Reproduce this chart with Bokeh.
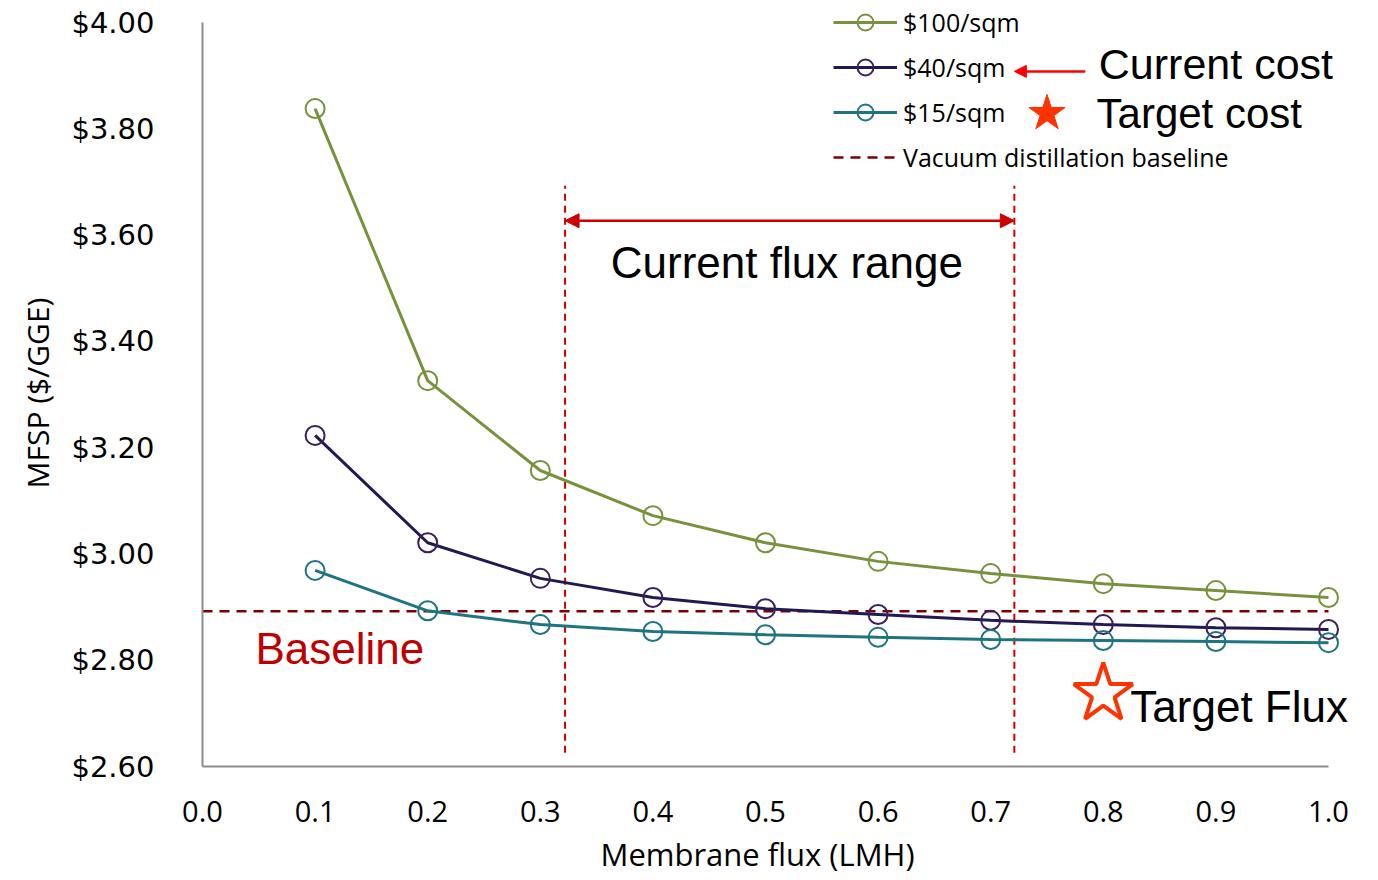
from bokeh.plotting import figure
from bokeh.models import (Range1d, Legend, LegendItem, Arrow, NormalHead, Label, Title,
                          PrintfTickFormatter, FixedTicker)
from bokeh.embed import file_html
from bokeh.resources import INLINE

flux = [0.1, 0.2, 0.3, 0.4, 0.5, 0.6, 0.7, 0.8, 0.9, 1.0]
cost_100 = [3.838, 3.326, 3.157, 3.072, 3.021, 2.986, 2.963, 2.944, 2.931, 2.918]
cost_40 = [3.223, 3.021, 2.954, 2.918, 2.897, 2.886, 2.875, 2.867, 2.861, 2.858]
cost_15 = [2.969, 2.893, 2.867, 2.854, 2.848, 2.843, 2.839, 2.837, 2.835, 2.833]
baseline = 2.892
series_labels = ["$100/sqm", "$40/sqm", "$15/sqm"]
baseline_label = "Vacuum distillation baseline"
flux_range = [0.322, 0.721]
target_flux = 0.8
target_flux_y = 2.737
x_ticks = [0.0, 0.1, 0.2, 0.3, 0.4, 0.5, 0.6, 0.7, 0.8, 0.9, 1.0]
y_ticks = [2.6, 2.8, 3.0, 3.2, 3.4, 3.6, 3.8, 4.0]

C100 = "#76923C"
C40 = "#201A50"
C40M = "#3B1F5E"
C15 = "#1E7480"
CBASE = "#7B0000"
CRED = "#CC0000"
CSTAR = "#FF3300"

# frame extends to the canvas top/right so annotations are not clipped;
# axes are bounded to the data extent
p = figure(width=1378, height=880, output_backend="svg", toolbar_location=None,
           x_range=Range1d(0, 1.0444), y_range=Range1d(2.6, 4.0414),
           min_border_left=202, min_border_right=0, min_border_top=0, min_border_bottom=114)
p.outline_line_color = None
p.xgrid.visible = False
p.ygrid.visible = False
p.background_fill_color = "white"

# axes
p.xaxis.bounds = (0.0, 1.0)
p.yaxis.bounds = (2.6, 4.0)
p.xaxis.ticker = FixedTicker(ticks=x_ticks)
p.yaxis.ticker = FixedTicker(ticks=y_ticks)
p.xaxis.formatter = PrintfTickFormatter(format="%.1f")
p.yaxis.formatter = PrintfTickFormatter(format="$%.2f")
for ax in (p.xaxis, p.yaxis):
    ax.axis_line_color = "#8C8C8C"
    ax.axis_line_width = 2
    ax.major_tick_line_color = None
    ax.minor_tick_line_color = None
    ax.major_label_text_color = "black"
p.yaxis.major_label_text_font = "DejaVu Sans"
p.yaxis.major_label_text_font_size = "29px"
p.yaxis.major_label_standoff = 42
p.xaxis.major_label_text_font = "Open Sans"
p.xaxis.major_label_text_font_size = "29px"
p.xaxis.major_label_standoff = 28

# axis titles placed as side titles so they centre on the data extent
p.add_layout(Title(text="Membrane flux (LMH)", align="left", offset=398, text_font="Open Sans",
                   text_font_size="31px", text_font_style="normal", text_color="black",
                   standoff=12), "below")
p.add_layout(Title(text="MFSP ($/GGE)", align="left", offset=278, text_font="Open Sans",
                   text_font_size="30px", text_font_style="normal", text_color="black",
                   standoff=22), "left")

# baseline
bl = p.line([0.0, 1.0], [baseline, baseline], line_color=CBASE, line_width=2.5, line_dash="10 7")

# flux range lines
for fx in flux_range:
    p.segment(x0=[fx], y0=[2.626], x1=[fx], y1=[3.693], line_color=CRED, line_width=2, line_dash="7 5")
p.add_layout(Arrow(x_start=flux_range[0], y_start=3.627, x_end=flux_range[1], y_end=3.627,
                   line_color=CRED, line_width=2.5,
                   start=NormalHead(size=14, fill_color=CRED, line_color=CRED),
                   end=NormalHead(size=14, fill_color=CRED, line_color=CRED)))

# series
items = []
for vals, col, mcol, lab in [(cost_100, C100, C100, series_labels[0]),
                             (cost_40, C40, C40M, series_labels[1]),
                             (cost_15, C15, C15, series_labels[2])]:
    ln = p.line(flux, vals, line_color=col, line_width=3)
    sc = p.scatter(flux, vals, marker="circle", size=19, line_color=mcol, line_width=2,
                   fill_color="white", fill_alpha=0.0)
    items.append(LegendItem(label=lab, renderers=[ln, sc]))
items.append(LegendItem(label=baseline_label, renderers=[bl]))

legend = Legend(items=items, location=(631, 589), orientation="vertical",
                border_line_alpha=0, background_fill_alpha=0, padding=0, margin=0,
                spacing=5, label_height=20, glyph_height=40, glyph_width=64,
                label_standoff=6, label_text_font="Open Sans", label_text_font_size="25px",
                label_text_color="black")
p.add_layout(legend, "center")

# target flux star
p.scatter([target_flux], [target_flux_y], marker="star", size=62, line_color=CSTAR, line_width=4,
          fill_color="white")

# current cost arrow and target cost star
p.add_layout(Arrow(x_start=0.784, y_start=3.908, x_end=0.721, y_end=3.908,
                   line_color="#FF0000", line_width=2.5,
                   end=NormalHead(size=12, fill_color="#FF0000", line_color="#FF0000")))
p.scatter([0.750], [3.829], marker="star", size=38, line_color=CSTAR, fill_color=CSTAR)

# text labels
labels = [
    (0.519, 3.548, "Current flux range", "44px", "black", "center"),
    (0.047, 2.822, "Baseline", "44px", "#C00000", "left"),
    (0.824, 2.713, "Target Flux", "44px", "black", "left"),
    (0.796, 3.921, "Current cost", "43px", "black", "left"),
    (0.794, 3.829, "Target cost", "42px", "black", "left"),
]
for x, y, t, fs, c, al in labels:
    p.add_layout(Label(x=x, y=y, text=t, text_font="Liberation Sans", text_font_size=fs,
                       text_color=c, text_align=al, text_baseline="middle"))

open("out.html", "w").write(file_html(p, INLINE))
